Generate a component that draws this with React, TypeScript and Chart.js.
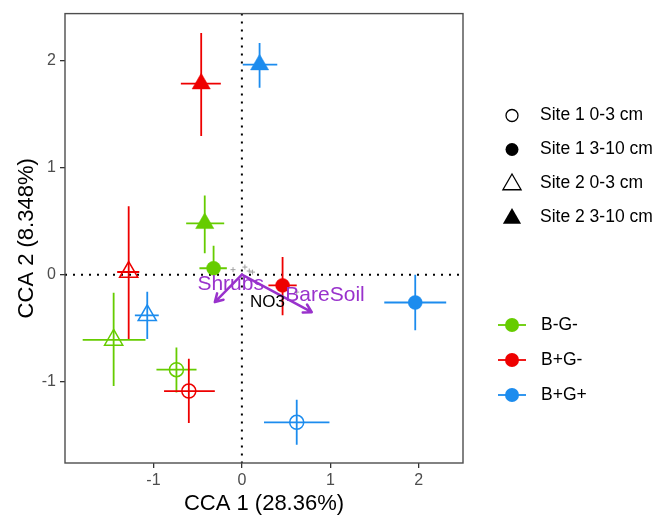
import React, { useEffect, useRef } from 'react';
import { Chart, registerables } from 'chart.js';

Chart.register(...registerables);

// ---------- data ----------
const groups = ['B-G-', 'B+G-', 'B+G+'];
const sites = ['Site 1 0-3 cm', 'Site 1 3-10 cm', 'Site 2 0-3 cm', 'Site 2 3-10 cm'];

const pointGroup = [1, 2, 0, 0, 1, 2, 1, 2, 0, 0, 1, 2];
const pointSite = [3, 3, 3, 1, 1, 1, 2, 2, 2, 0, 0, 0];
const cca1 = [-0.46, 0.20, -0.42, -0.32, 0.46, 1.96, -1.28, -1.07, -1.45, -0.74, -0.60, 0.62];
const cca2 = [1.785, 1.963, 0.48, 0.06, -0.10, -0.26, 0.025, -0.38, -0.61, -0.888, -1.088, -1.38];
const cca1Low = [-0.69, 0.01, -0.63, -0.48, 0.30, 1.61, -1.41, -1.21, -1.80, -0.966, -0.88, 0.25];
const cca1High = [-0.238, 0.40, -0.20, -0.17, 0.62, 2.31, -1.16, -0.94, -1.09, -0.513, -0.306, 0.99];
const cca2Low = [1.295, 1.748, 0.20, 0.03, -0.38, -0.52, -0.60, -0.60, -1.04, -1.10, -1.387, -1.59];
const cca2High = [2.258, 2.165, 0.74, 0.27, 0.165, 0.00, 0.64, -0.16, -0.17, -0.68, -0.785, -1.17];

const speciesX = [-0.10, 0.034, 0.083, 0.121, 0.62];
const speciesY = [0.047, 0.071, 0.034, 0.024, -0.163];

const arrowNames = ['Shrubs', 'BareSoil'];
const arrowX = [-0.306, 0.79];
const arrowY = [-0.256, -0.35];
const envLabels = ['Shrubs', 'BareSoil', 'NO3'];
const envLabelX = [-0.127, 0.94, 0.289];
const envLabelY = [-0.09, -0.195, -0.254];

const xTicks = [-1, 0, 1, 2];
const yTicks = [-1, 0, 1, 2];
const xTitle = 'CCA 1 (28.36%)';
const yTitle = 'CCA 2 (8.348%)';

// ---------- styles ----------
const groupColors = ['#66CC00', '#EE0000', '#1C8CEE'];
const envColors = ['#9932CC', '#9932CC', '#000000'];
const FONT = "'Liberation Sans', Arial, sans-serif";

function triPath(ctx: CanvasRenderingContext2D, x: number, y: number, r: number) {
  ctx.beginPath();
  ctx.moveTo(x, y - r);
  ctx.lineTo(x + r * Math.sin((2 * Math.PI) / 3), y - r * Math.cos((2 * Math.PI) / 3));
  ctx.lineTo(x + r * Math.sin((4 * Math.PI) / 3), y - r * Math.cos((4 * Math.PI) / 3));
  ctx.closePath();
}

const overlay = {
  id: 'overlay',
  beforeDatasetsDraw(chart: any) {
    const { ctx, chartArea: a } = chart;
    const xs = chart.scales.x;
    const ys = chart.scales.y;
    ctx.save();
    // dotted zero lines
    ctx.strokeStyle = '#000';
    ctx.lineWidth = 2;
    ctx.setLineDash([2, 6]);
    const x0 = xs.getPixelForValue(0);
    const y0 = ys.getPixelForValue(0);
    ctx.beginPath();
    ctx.moveTo(x0, a.top);
    ctx.lineTo(x0, a.bottom);
    ctx.moveTo(a.left, y0);
    ctx.lineTo(a.right, y0);
    ctx.stroke();
    ctx.setLineDash([]);
    // error bars
    ctx.lineWidth = 1.8;
    for (let i = 0; i < cca1.length; i++) {
      ctx.strokeStyle = groupColors[pointGroup[i]];
      const px = xs.getPixelForValue(cca1[i]);
      const py = ys.getPixelForValue(cca2[i]);
      ctx.beginPath();
      ctx.moveTo(xs.getPixelForValue(cca1Low[i]), py);
      ctx.lineTo(xs.getPixelForValue(cca1High[i]), py);
      ctx.moveTo(px, ys.getPixelForValue(cca2Low[i]));
      ctx.lineTo(px, ys.getPixelForValue(cca2High[i]));
      ctx.stroke();
    }
    ctx.restore();
  },
  afterDatasetsDraw(chart: any) {
    const { ctx } = chart;
    const xs = chart.scales.x;
    const ys = chart.scales.y;
    ctx.save();
    const ox = xs.getPixelForValue(0);
    const oy = ys.getPixelForValue(0);
    ctx.strokeStyle = '#9932CC';
    ctx.lineWidth = 2.5;
    ctx.lineCap = 'round';
    ctx.lineJoin = 'round';
    for (let i = 0; i < arrowNames.length; i++) {
      const tx = xs.getPixelForValue(arrowX[i]);
      const ty = ys.getPixelForValue(arrowY[i]);
      const ang = Math.atan2(ty - oy, tx - ox);
      const hl = 9;
      ctx.beginPath();
      ctx.moveTo(ox, oy);
      ctx.lineTo(tx, ty);
      ctx.moveTo(tx - hl * Math.cos(ang - Math.PI / 6), ty - hl * Math.sin(ang - Math.PI / 6));
      ctx.lineTo(tx, ty);
      ctx.lineTo(tx - hl * Math.cos(ang + Math.PI / 6), ty - hl * Math.sin(ang + Math.PI / 6));
      ctx.stroke();
    }
    ctx.textAlign = 'center';
    ctx.textBaseline = 'middle';
    for (let i = 0; i < envLabels.length; i++) {
      ctx.fillStyle = envColors[i];
      ctx.font = `${i === 2 ? 17 : 21}px ${FONT}`;
      ctx.fillText(envLabels[i], xs.getPixelForValue(envLabelX[i]), ys.getPixelForValue(envLabelY[i]));
    }
    ctx.restore();
  },
  afterDraw(chart: any) {
    const { ctx, chartArea: a } = chart;
    ctx.save();
    // panel border
    ctx.strokeStyle = '#4D4D4D';
    ctx.lineWidth = 1.4;
    ctx.strokeRect(a.left, a.top, a.right - a.left, a.bottom - a.top);
    // axis titles
    ctx.fillStyle = '#000';
    ctx.font = `22px ${FONT}`;
    ctx.textAlign = 'center';
    ctx.textBaseline = 'alphabetic';
    ctx.fillText(xTitle, (a.left + a.right) / 2, 510);
    ctx.save();
    ctx.translate(33, (a.top + a.bottom) / 2);
    ctx.rotate(-Math.PI / 2);
    ctx.fillText(yTitle, 0, 0);
    ctx.restore();
    // shape legend
    ctx.font = `17.5px ${FONT}`;
    ctx.textAlign = 'left';
    ctx.textBaseline = 'middle';
    const sx = 512;
    for (let i = 0; i < sites.length; i++) {
      const y = 115.5 + 34 * i;
      const filled = i === 1 || i === 3;
      ctx.strokeStyle = '#000';
      ctx.fillStyle = '#000';
      ctx.lineWidth = 1.3;
      if (i < 2) {
        ctx.beginPath();
        ctx.arc(sx, y, filled ? 6.5 : 6, 0, Math.PI * 2);
      } else {
        triPath(ctx, sx, y + 1, 10.5);
      }
      if (filled) ctx.fill();
      else ctx.stroke();
      ctx.fillStyle = '#000';
      ctx.fillText(sites[i], 540, y);
    }
    // colour legend
    for (let i = 0; i < groups.length; i++) {
      const y = 325 + 35 * i;
      ctx.strokeStyle = groupColors[i];
      ctx.fillStyle = groupColors[i];
      ctx.lineWidth = 1.8;
      ctx.beginPath();
      ctx.moveTo(498, y);
      ctx.lineTo(526, y);
      ctx.stroke();
      ctx.beginPath();
      ctx.arc(512, y, 7, 0, Math.PI * 2);
      ctx.fill();
      ctx.fillStyle = '#000';
      ctx.fillText(groups[i], 541, y);
    }
    ctx.restore();
  },
};

export default function App() {
  const ref = useRef<HTMLCanvasElement>(null);
  useEffect(() => {
    const canvas = ref.current!;
    const pts = cca1.map((x, i) => ({ x, y: cca2[i] }));
    const filled = pointSite.map((s) => s === 1 || s === 3);
    const chart = new Chart(canvas, {
      type: 'scatter',
      data: {
        datasets: [
          {
            label: 'species',
            data: speciesX.map((x, i) => ({ x, y: speciesY[i] })),
            pointStyle: 'cross',
            pointRadius: 2.5,
            pointBorderColor: '#A0A0A0',
            pointBorderWidth: 1,
            pointBackgroundColor: '#A0A0A0',
          } as any,
          {
            label: 'samples',
            data: pts,
            pointStyle: pointSite.map((s) => (s < 2 ? 'circle' : 'triangle')),
            pointRadius: pointSite.map((s) => (s < 2 ? 7 : 10.5)),
            pointBackgroundColor: pointGroup.map((g, i) => (filled[i] ? groupColors[g] : 'rgba(0,0,0,0)')),
            pointBorderColor: pointGroup.map((g) => groupColors[g]),
            pointBorderWidth: filled.map((f) => (f ? 0.5 : 1.5)),
          } as any,
        ],
      },
      options: {
        animation: false,
        responsive: false,
        maintainAspectRatio: false,
        devicePixelRatio: 1,
        events: [],
        layout: { padding: { left: 0, top: 13, right: 193, bottom: 0 } },
        plugins: { legend: { display: false }, tooltip: { enabled: false }, title: { display: false } },
        scales: {
          x: {
            type: 'linear',
            min: -2.0,
            max: 2.5,
            afterBuildTicks: (s: any) => {
              s.ticks = xTicks.map((v) => ({ value: v }));
            },
            afterFit: (s: any) => {
              s.height = 52;
            },
            ticks: {
              font: { size: 16, family: FONT },
              color: '#4D4D4D',
              padding: 3,
              maxRotation: 0,
              autoSkip: false,
              callback: (v: any) => String(v),
            },
            grid: { drawOnChartArea: false, drawTicks: true, tickLength: 5, color: '#333333', lineWidth: 1.3 },
            border: { display: false },
          },
          y: {
            type: 'linear',
            min: -1.76,
            max: 2.44,
            afterBuildTicks: (s: any) => {
              s.ticks = yTicks.map((v) => ({ value: v }));
            },
            afterFit: (s: any) => {
              s.width = 65;
            },
            ticks: {
              font: { size: 16, family: FONT },
              color: '#4D4D4D',
              padding: 4,
              autoSkip: false,
              callback: (v: any) => String(v),
            },
            grid: { drawOnChartArea: false, drawTicks: true, tickLength: 5, color: '#333333', lineWidth: 1.3 },
            border: { display: false },
          },
        },
      } as any,
      plugins: [overlay as any],
    });
    return () => chart.destroy();
  }, []);
  return (
    <div style={{ position: 'absolute', left: 0, top: 0, width: 656, height: 515, background: '#fff' }}>
      <canvas ref={ref} width={656} height={515} style={{ display: 'block' }} />
    </div>
  );
}
